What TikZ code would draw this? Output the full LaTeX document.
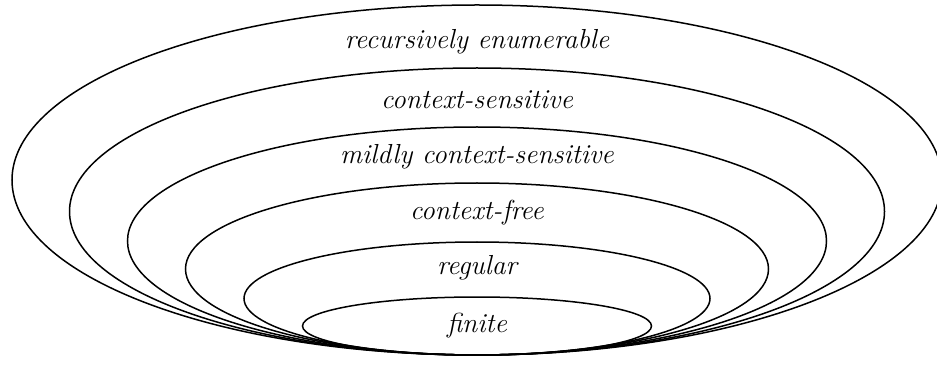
\documentclass[tikz,border=0pt]{standalone}
\usetikzlibrary{positioning}
\begin{document}
\begin{tikzpicture}[x=1pt,y=-1pt,
  ring/.style={line width=1.5pt},
  lbl/.style={font=\fontsize{27.5}{32}\selectfont\itshape, inner sep=0pt}]
  \useasboundingbox (0,0) rectangle (937,366);
  % nested language classes, all touching at the bottom
  \draw[ring] (477,180)   ellipse [x radius=465,   y radius=175];
  \draw[ring] (477,211.5) ellipse [x radius=407.5, y radius=143.5];
  \draw[ring] (477,241)   ellipse [x radius=349.5, y radius=114];
  \draw[ring] (477,269)   ellipse [x radius=291.5, y radius=86];
  \draw[ring] (477,298.5) ellipse [x radius=233,   y radius=56.5];
  \draw[ring] (477,326)   ellipse [x radius=174.5, y radius=29];
  % class names
  \node[lbl] (re)  at (477,42)  {recursively enumerable};
  \node[lbl] (cs)  at (477,100) {context-sensitive};
  \node[lbl] (mcs) at (477,157) {mildly context-sensitive};
  \node[lbl] (cf)  at (477,213) {context-free};
  \node[lbl] (reg) at (477,268) {regular};
  \node[lbl] (fin) at (477,326) {finite};
\end{tikzpicture}
\end{document}
